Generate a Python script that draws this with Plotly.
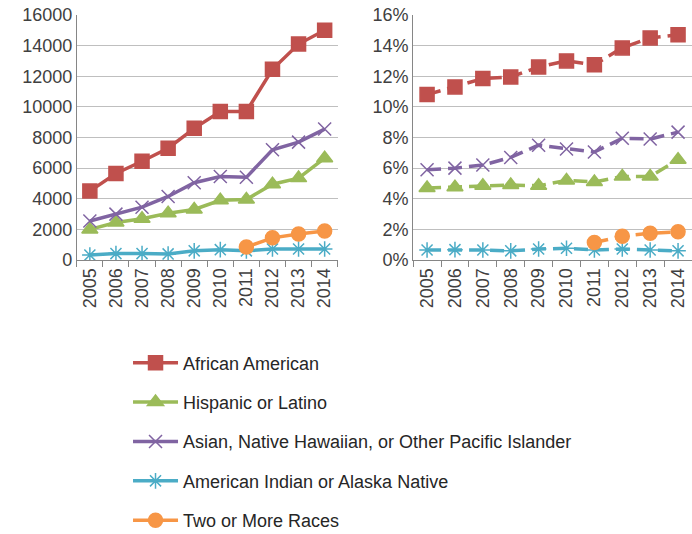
import plotly.graph_objects as go

years = ['2005', '2006', '2007', '2008', '2009', '2010', '2011', '2012', '2013', '2014']

# counts (left panel)
african_n = [4500, 5650, 6450, 7300, 8600, 9700, 9700, 12450, 14100, 15000]
hispanic_n = [2000, 2450, 2700, 3050, 3300, 3900, 3950, 4950, 5350, 6650]
asian_n = [2550, 3000, 3450, 4150, 5050, 5450, 5400, 7200, 7700, 8550]
aian_n = [330, 420, 420, 400, 600, 680, 600, 720, 720, 720]
two_n = [None, None, None, None, None, None, 850, 1450, 1700, 1900]

# share of total (right panel, %)
african_p = [10.8, 11.3, 11.85, 11.95, 12.6, 13.0, 12.75, 13.85, 14.5, 14.7]
hispanic_p = [4.7, 4.75, 4.85, 4.9, 4.85, 5.2, 5.1, 5.45, 5.45, 6.55]
asian_p = [5.9, 6.0, 6.2, 6.7, 7.5, 7.25, 7.05, 7.95, 7.9, 8.35]
aian_p = [0.66, 0.68, 0.66, 0.6, 0.72, 0.77, 0.66, 0.72, 0.66, 0.6]
two_p = [None, None, None, None, None, None, 1.15, 1.55, 1.75, 1.85]

names = ['African American', 'Hispanic or Latino',
         'Asian, Native Hawaiian, or Other Pacific Islander',
         'American Indian or Alaska Native', 'Two or More Races']
colors = ['#C0504D', '#9BBB59', '#8064A2', '#4BACC6', '#F79646']
symbols = ['square', 'triangle-up', 'x-thin', 'asterisk', 'circle']
sizes = [14, 14, 13, 13, 14]

left = [african_n, hispanic_n, asian_n, aian_n, two_n]
right = [african_p, hispanic_p, asian_p, aian_p, two_p]

fig = go.Figure()
for i in range(5):
    mk = dict(symbol=symbols[i], size=sizes[i], color=colors[i],
              line=dict(width=1.5, color=colors[i]))
    fig.add_trace(go.Scatter(x=years, y=left[i], name=names[i], mode='lines+markers',
                             line=dict(color=colors[i], width=3.5), marker=mk,
                             legendgroup=str(i), xaxis='x', yaxis='y'))
    fig.add_trace(go.Scatter(x=years, y=right[i], name=names[i], mode='lines+markers',
                             line=dict(color=colors[i], width=3.5, dash='14px,7px'), marker=mk,
                             legendgroup=str(i), showlegend=False, xaxis='x2', yaxis='y2'))

font = dict(family='Liberation Sans', size=18, color='#404040')
xcommon = dict(type='category', tickangle=-90, showline=True, linecolor='#868686',
               ticks='outside', tickson='boundaries', ticklen=6, tickcolor='#868686',
               showgrid=False, tickfont=font, range=[-0.5, 9.5], automargin=False)
ycommon = dict(showline=True, linecolor='#868686', showgrid=True, gridcolor='#BFBFBF',
               zeroline=False, ticks='', tickfont=font, automargin=False)

fig.update_layout(
    width=692, height=534,
    margin=dict(l=0, r=0, t=0, b=0, autoexpand=False),
    paper_bgcolor='white', plot_bgcolor='white',
    xaxis=dict(domain=[0.111, 0.488], anchor='y', **xcommon),
    yaxis=dict(domain=[0.513, 0.972], anchor='x', range=[0, 16000], dtick=2000,
               tickformat='d', **ycommon),
    xaxis2=dict(domain=[0.597, 1.0], anchor='y2', **xcommon),
    yaxis2=dict(domain=[0.513, 0.972], anchor='x2', range=[0, 16], dtick=2,
                ticksuffix='%', **ycommon),
    legend=dict(x=0.185, y=0.355, xanchor='left', yanchor='top',
                font=dict(family='Liberation Sans', size=18, color='#262626'),
                traceorder='grouped', tracegroupgap=13, itemwidth=45),
    showlegend=True,
)

fig.write_html('out.html', config={'displayModeBar': False},
               post_script="document.body.style.margin='0';")
